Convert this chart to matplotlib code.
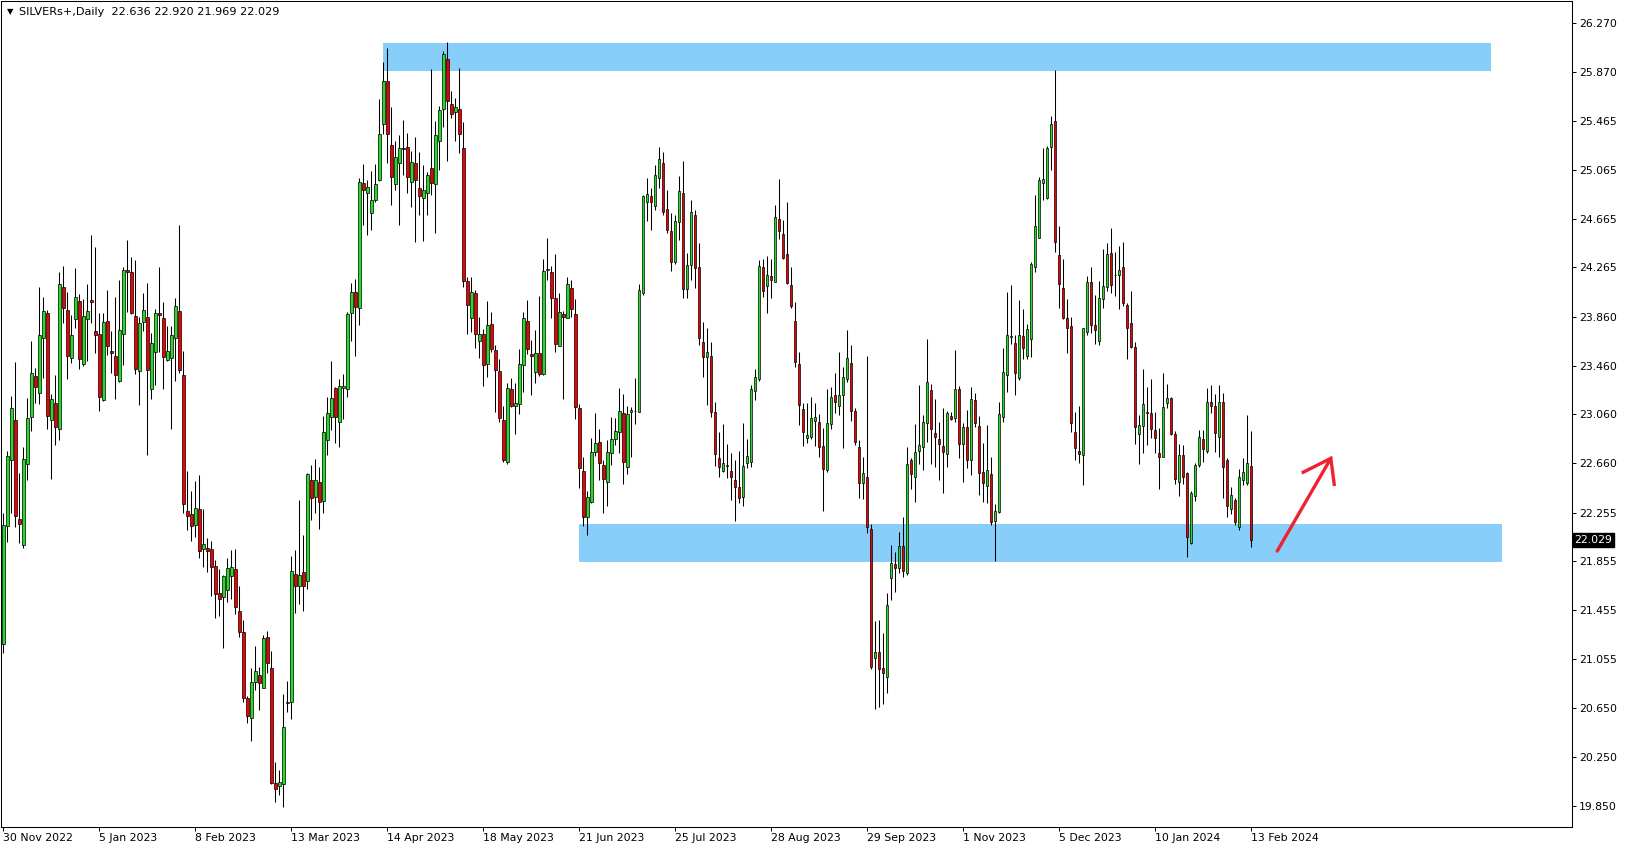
import matplotlib
matplotlib.use("Agg")
import matplotlib.pyplot as plt
import numpy as np
from matplotlib.patches import Rectangle
from matplotlib.transforms import blended_transform_factory

# daily candles, 30 Nov 2022 .. 13 Feb 2024
opens = [
    21.177, 22.147, 22.685, 23.013, 22.202, 21.986, 22.650, 23.040, 23.374, 23.232,
    23.683, 23.888, 23.011, 23.153, 22.937, 24.101, 23.912, 23.519, 23.838, 23.989,
    23.475, 23.838, 23.997, 23.743, 23.718, 23.177, 23.825, 23.579, 23.538, 23.336,
    23.721, 24.243, 24.226, 23.866, 23.418, 23.814, 23.858, 23.270, 23.573, 23.888,
    23.849, 23.502, 23.523, 23.689, 23.906, 23.383, 22.267, 22.242, 22.149, 22.280,
    21.952, 21.964, 21.955, 21.818, 21.594, 21.559, 21.617, 21.738, 21.789, 21.448,
    21.276, 20.734, 20.568, 20.868, 20.925, 20.820, 21.234, 20.979, 20.039, 20.010,
    20.029, 20.690, 20.702, 21.748, 21.655, 21.767, 21.697, 22.522, 22.385, 22.503,
    22.353, 22.853, 23.041, 23.273, 23.000, 23.273, 23.270, 23.888, 24.060, 23.929,
    24.953, 24.872, 24.713, 24.817, 24.980, 25.437, 25.789, 25.265, 24.950, 25.123,
    25.243, 25.248, 24.967, 25.117, 24.912, 24.830, 24.877, 25.079, 24.950, 25.303,
    25.560, 25.970, 25.603, 25.541, 25.560, 25.243, 24.150, 23.847, 24.052, 23.664,
    23.718, 23.470, 23.797, 23.584, 23.412, 23.010, 22.671, 23.267, 23.131, 23.141,
    23.461, 23.822, 23.551, 23.409, 23.559, 23.387, 24.245, 24.223, 24.010, 23.622,
    23.879, 23.852, 24.092, 23.879, 23.109, 22.592, 22.221, 22.338, 22.753, 22.830,
    22.641, 22.502, 22.740, 22.855, 22.912, 23.070, 22.625, 23.076, 23.084, 23.081,
    24.051, 24.803, 24.849, 24.770, 24.998, 25.120, 24.742, 24.562, 24.305, 24.633,
    24.871, 24.084, 24.283, 24.693, 24.264, 23.649, 23.526, 23.535, 23.076, 22.699,
    22.597, 22.640, 22.595, 22.521, 22.461, 22.384, 22.658, 22.666, 23.253, 23.346,
    24.264, 24.111, 24.193, 24.147, 24.660, 24.535, 24.371, 24.119, 23.824, 23.469,
    23.100, 22.868, 22.876, 23.008, 22.994, 22.800, 22.604, 22.978, 23.216, 23.128,
    23.216, 23.347, 23.478, 23.084, 22.789, 22.494, 22.549, 22.117, 21.060, 21.109,
    20.978, 20.904, 21.721, 21.830, 21.798, 21.983, 21.757, 22.683, 22.549, 22.762,
    22.795, 22.992, 23.257, 22.904, 22.855, 22.800, 22.732, 23.043, 23.027, 23.265,
    22.814, 22.956, 22.685, 23.174, 22.964, 22.590, 22.475, 22.570, 22.188, 22.262,
    23.035, 23.382, 23.693, 23.642, 23.360, 23.702, 23.541, 23.674, 24.270, 24.508,
    24.959, 24.836, 25.254, 25.464, 24.363, 24.092, 23.847, 23.781, 22.918, 22.756,
    22.726, 23.737, 24.142, 23.792, 23.663, 24.005, 24.101, 24.379, 24.202, 24.202,
    24.265, 23.956, 23.806, 23.614, 22.896, 22.967, 23.079, 23.068, 22.928, 22.740,
    22.713, 23.150, 23.191, 22.896, 22.502, 22.726, 22.576, 22.008, 22.393, 22.644,
    22.857, 22.762, 23.158, 23.128, 22.877, 23.158, 22.685, 22.281, 22.357, 22.139,
    22.521, 22.500, 22.636,
]
highs = [
    22.250, 22.762, 23.210, 23.489, 22.576, 22.789, 23.191, 23.661, 23.437, 24.101,
    24.019, 23.915, 23.226, 23.382, 24.224, 24.273, 24.060, 23.874, 24.256, 24.046,
    24.005, 24.128, 24.530, 24.429, 23.888, 23.888, 24.079, 23.746, 24.019, 24.161,
    24.270, 24.489, 24.352, 24.325, 23.855, 24.051, 24.139, 23.724, 23.920, 24.270,
    23.983, 23.784, 23.784, 24.014, 24.613, 23.580, 22.592, 22.433, 22.512, 22.560,
    22.280, 22.050, 22.019, 21.866, 21.795, 21.745, 21.882, 21.945, 21.955, 21.652,
    21.371, 20.750, 20.979, 21.158, 20.989, 21.250, 21.282, 21.116, 20.208, 20.144,
    20.766, 20.871, 21.897, 21.945, 22.360, 22.073, 22.580, 22.646, 22.694, 22.624,
    23.045, 23.198, 23.497, 23.280, 23.349, 23.390, 23.901, 24.133, 24.166, 24.994,
    25.109, 24.980, 25.057, 25.112, 25.644, 25.948, 26.060, 25.576, 25.300, 25.349,
    25.472, 25.363, 25.218, 25.336, 25.210, 25.103, 25.049, 25.890, 25.467, 25.587,
    26.037, 26.109, 25.710, 25.650, 25.899, 25.453, 24.188, 24.185, 24.079, 23.860,
    23.759, 23.989, 23.896, 23.628, 23.510, 23.128, 23.313, 23.354, 23.313, 23.595,
    23.895, 23.994, 23.669, 23.751, 24.029, 24.330, 24.502, 24.275, 24.371, 24.051,
    23.906, 24.188, 24.160, 24.005, 23.144, 22.707, 22.434, 22.863, 23.068, 22.936,
    22.685, 22.849, 23.040, 23.030, 23.275, 23.223, 23.128, 23.122, 23.354, 24.128,
    24.860, 24.994, 24.915, 25.103, 25.250, 25.210, 24.898, 24.707, 24.693, 25.013,
    25.140, 24.384, 24.816, 24.734, 24.461, 23.813, 23.764, 23.655, 23.158, 22.917,
    22.977, 22.813, 22.740, 22.685, 22.759, 22.985, 22.857, 23.300, 23.431, 24.324,
    24.333, 24.360, 24.330, 24.775, 24.988, 24.652, 24.802, 24.270, 23.983, 23.567,
    23.149, 23.149, 23.204, 23.150, 23.063, 22.945, 23.265, 23.287, 23.396, 23.573,
    23.451, 23.751, 23.628, 23.109, 22.849, 22.707, 23.538, 22.158, 21.366, 21.374,
    21.270, 21.593, 21.989, 21.929, 22.093, 22.216, 22.789, 22.699, 22.978, 23.300,
    23.054, 23.675, 23.308, 23.186, 22.994, 23.112, 23.090, 23.076, 23.587, 23.292,
    22.986, 23.095, 23.281, 23.232, 23.046, 22.827, 22.972, 22.707, 22.322, 23.163,
    23.601, 24.065, 24.120, 23.710, 23.997, 23.923, 23.797, 24.311, 24.857, 25.008,
    25.245, 25.262, 25.505, 25.882, 24.603, 24.333, 24.002, 23.860, 23.076, 23.128,
    23.770, 24.196, 24.267, 24.038, 24.153, 24.415, 24.461, 24.590, 24.393, 24.442,
    24.470, 23.970, 24.071, 23.650, 23.054, 23.430, 23.281, 23.347, 23.081, 22.945,
    23.400, 23.308, 23.205, 22.923, 22.816, 22.808, 22.590, 22.434, 22.658, 22.931,
    22.931, 23.273, 23.300, 23.226, 23.300, 23.232, 22.704, 22.467, 22.371, 22.612,
    22.699, 23.054, 22.920,
]
lows = [
    21.100, 22.016, 22.248, 22.139, 22.003, 21.967, 22.521, 22.926, 23.150, 23.142,
    23.355, 22.937, 22.527, 22.806, 22.852, 23.806, 23.352, 23.483, 23.764, 23.434,
    23.456, 23.500, 23.811, 23.565, 23.090, 23.169, 23.546, 23.396, 23.185, 23.327,
    23.464, 23.901, 23.879, 23.390, 23.136, 23.746, 22.726, 23.185, 23.300, 23.573,
    23.270, 23.500, 22.943, 23.332, 23.396, 22.254, 22.114, 22.018, 22.057, 21.878,
    21.808, 21.764, 21.572, 21.387, 21.403, 21.148, 21.521, 21.547, 21.419, 21.238,
    20.702, 20.527, 20.383, 20.804, 20.638, 20.814, 20.941, 20.032, 19.883, 19.937,
    19.841, 20.616, 20.559, 21.435, 21.508, 21.445, 21.627, 22.194, 22.248, 22.121,
    22.248, 22.726, 22.931, 22.822, 22.795, 23.019, 23.205, 23.664, 23.541, 23.792,
    24.612, 24.530, 24.571, 24.803, 24.975, 25.358, 25.123, 24.776, 24.899, 24.612,
    25.021, 24.877, 24.762, 24.470, 24.694, 24.483, 24.694, 24.860, 24.549, 25.062,
    25.418, 25.139, 25.486, 25.300, 25.199, 24.106, 23.715, 23.737, 23.601, 23.519,
    23.295, 23.368, 23.574, 23.081, 22.999, 22.671, 22.650, 23.122, 22.895, 23.059,
    23.245, 23.554, 23.221, 23.313, 23.374, 23.382, 24.160, 23.852, 23.573, 23.620,
    23.188, 23.846, 23.860, 23.024, 22.453, 22.144, 22.070, 22.330, 22.721, 22.521,
    22.253, 22.308, 22.644, 22.808, 22.740, 22.488, 22.570, 22.712, 22.980, 23.081,
    24.040, 24.647, 24.570, 24.734, 24.917, 24.693, 24.543, 24.234, 24.292, 24.488,
    24.016, 24.010, 24.160, 24.098, 23.625, 23.368, 23.136, 23.040, 22.636, 22.548,
    22.589, 22.535, 22.357, 22.185, 22.330, 22.308, 22.617, 22.630, 23.177, 23.333,
    24.024, 23.893, 24.010, 24.141, 24.496, 24.330, 24.128, 23.934, 23.447, 22.972,
    22.800, 22.827, 22.857, 22.800, 22.713, 22.270, 22.590, 22.937, 23.068, 23.054,
    22.781, 23.328, 23.008, 22.809, 22.377, 22.366, 22.084, 20.970, 20.642, 20.658,
    20.686, 20.778, 21.538, 21.606, 21.762, 21.724, 21.743, 22.448, 22.344, 22.650,
    22.604, 22.836, 22.653, 22.631, 22.522, 22.418, 22.631, 23.013, 22.999, 22.705,
    22.508, 22.617, 22.563, 22.959, 22.398, 22.344, 22.330, 22.152, 21.860, 22.250,
    22.999, 23.245, 23.633, 23.218, 23.341, 23.513, 23.511, 23.532, 24.224, 24.502,
    24.817, 24.822, 25.062, 24.388, 23.934, 23.841, 23.560, 22.918, 22.685, 22.658,
    22.481, 23.710, 23.724, 23.633, 23.628, 23.928, 24.071, 24.051, 24.032, 23.923,
    23.950, 23.511, 23.601, 22.816, 22.653, 22.745, 22.808, 22.863, 22.745, 22.445,
    22.710, 23.109, 22.890, 22.486, 22.393, 22.486, 21.893, 22.000, 22.349, 22.625,
    22.672, 22.740, 23.073, 22.754, 22.707, 22.371, 22.221, 22.240, 22.152, 22.112,
    22.480, 22.480, 21.969,
]
closes = [
    22.152, 22.718, 23.109, 22.226, 22.158, 22.694, 23.027, 23.396, 23.281, 23.707,
    23.907, 23.049, 23.183, 22.953, 24.125, 23.928, 23.540, 23.707, 24.019, 23.510,
    23.863, 23.907, 23.978, 23.713, 23.204, 23.816, 23.620, 23.565, 23.385, 23.751,
    24.243, 24.229, 23.893, 23.434, 23.806, 23.915, 23.426, 23.642, 23.888, 23.876,
    23.532, 23.576, 23.708, 23.947, 23.427, 22.321, 22.229, 22.143, 22.289, 21.942,
    21.996, 21.942, 21.811, 21.591, 21.550, 21.735, 21.802, 21.808, 21.477, 21.273,
    20.731, 20.590, 20.868, 20.954, 20.855, 21.228, 21.018, 20.039, 19.985, 20.049,
    20.495, 20.700, 21.773, 21.655, 21.741, 21.655, 22.567, 22.376, 22.522, 22.344,
    22.914, 23.071, 23.191, 23.035, 23.292, 23.292, 23.882, 24.060, 23.937, 24.967,
    24.899, 24.920, 24.814, 24.945, 25.355, 25.789, 25.355, 25.008, 25.166, 25.240,
    25.232, 25.008, 25.125, 24.983, 24.852, 24.896, 25.019, 24.959, 25.347, 25.554,
    26.013, 25.631, 25.519, 25.576, 25.355, 24.150, 23.953, 24.060, 23.715, 23.718,
    23.461, 23.789, 23.598, 23.423, 23.027, 22.685, 23.273, 23.128, 23.150, 23.469,
    23.846, 23.592, 23.535, 23.559, 23.393, 24.232, 24.250, 24.016, 23.633, 23.895,
    23.854, 24.125, 23.920, 23.117, 22.617, 22.215, 22.385, 22.748, 22.822, 22.658,
    22.532, 22.748, 22.855, 22.920, 23.087, 22.671, 23.062, 23.095, 23.090, 24.076,
    24.846, 24.863, 24.803, 25.021, 25.150, 24.715, 24.567, 24.305, 24.644, 24.890,
    24.084, 24.283, 24.715, 24.256, 23.682, 23.526, 23.567, 23.081, 22.731, 22.630,
    22.658, 22.646, 22.548, 22.466, 22.371, 22.639, 22.721, 23.264, 23.363, 24.278,
    24.073, 24.201, 24.160, 24.679, 24.565, 24.343, 24.136, 23.950, 23.491, 23.136,
    22.917, 22.890, 23.032, 23.035, 22.789, 22.609, 22.986, 23.205, 23.158, 23.216,
    23.363, 23.519, 23.090, 22.836, 22.494, 22.576, 22.139, 20.992, 21.109, 20.970,
    20.937, 21.497, 21.838, 21.803, 21.983, 21.778, 22.650, 22.568, 22.754, 22.806,
    22.999, 23.322, 22.937, 22.877, 22.817, 22.754, 23.068, 23.019, 23.265, 22.814,
    22.956, 22.685, 23.186, 22.991, 22.581, 22.500, 22.603, 22.180, 22.267, 23.060,
    23.404, 23.710, 23.700, 23.396, 23.710, 23.601, 23.759, 24.289, 24.603, 24.980,
    24.986, 25.240, 25.437, 24.475, 24.125, 23.852, 23.765, 22.991, 22.781, 22.732,
    23.765, 24.142, 23.792, 23.751, 24.010, 24.112, 24.374, 24.120, 24.198, 24.243,
    23.970, 23.765, 23.614, 22.953, 22.972, 23.144, 23.068, 22.937, 22.863, 22.713,
    23.117, 23.191, 22.896, 22.527, 22.726, 22.549, 22.057, 22.412, 22.644, 22.871,
    22.773, 23.158, 23.128, 22.904, 23.158, 22.631, 22.311, 22.396, 22.180, 22.549,
    22.584, 22.658, 22.029,
]

date_labels = ["30 Nov 2022", "5 Jan 2023", "8 Feb 2023", "13 Mar 2023", "14 Apr 2023",
               "18 May 2023", "21 Jun 2023", "25 Jul 2023", "28 Aug 2023", "29 Sep 2023",
               "1 Nov 2023", "5 Dec 2023", "10 Jan 2024", "13 Feb 2024"]
price_ticks = [26.270, 25.870, 25.465, 25.065, 24.665, 24.265, 23.860, 23.460, 23.060,
               22.660, 22.255, 21.855, 21.455, 21.055, 20.650, 20.250, 19.850]

# drawn objects: two supply/demand zones and the hand drawn arrow (bar index, price)
zone_top = dict(bars=[94.9, 371.9], prices=[25.876, 26.107])
zone_bottom = dict(bars=[143.9, 374.8], prices=[21.849, 22.161])
arrow_shaft = dict(bars=[318.5, 331.9], prices=[21.939, 22.699])
arrow_head = dict(bars=[325.0, 331.9, 332.75], prices=[22.585, 22.699, 22.486])

symbol = "SILVERs+,Daily"

W, H = 1629, 850
fig = plt.figure(figsize=(W / 100, H / 100), dpi=100)
ax = fig.add_axes([1 / W, 23 / H, 1571 / W, 826 / H])
fs = 7.8

o = np.array(opens)
c = np.array(closes)
x = np.arange(len(c))
up = c >= o

for z in (zone_top, zone_bottom):
    ax.add_patch(Rectangle((z["bars"][0], z["prices"][0]), z["bars"][1] - z["bars"][0],
                           z["prices"][1] - z["prices"][0], facecolor="#87CEFA",
                           edgecolor="none", zorder=1))

ax.vlines(x, lows, highs, color="black", linewidth=0.75, zorder=2)
body_lo = np.minimum(o, c)
body_h = np.maximum(np.abs(c - o), 0.004)
ax.bar(x, body_h, bottom=body_lo, width=0.62,
       color=np.where(up, "#22DD22", "#EE0000"), edgecolor="black",
       linewidth=0.5, zorder=3)

ax.plot(arrow_shaft["bars"], arrow_shaft["prices"], color="#EE2230", linewidth=2.4,
        solid_capstyle="round", zorder=4)
ax.plot(arrow_head["bars"], arrow_head["prices"], color="#EE2230", linewidth=2.4,
        solid_joinstyle="miter", zorder=4)

ax.set_xlim(-0.575, 392.2)
ax.set_ylim(19.677, 26.448)

ax.yaxis.tick_right()
ax.set_yticks(price_ticks)
ax.set_yticklabels([f"{p:.3f}" for p in price_ticks])
ax.tick_params(axis="y", length=3, width=0.7, pad=2, labelsize=fs)
ax.set_xticks(np.arange(len(date_labels)) * 24)
ax.set_xticklabels(date_labels, ha="left")
ax.tick_params(axis="x", length=3, width=0.7, pad=1.5, labelsize=fs)
for s in ax.spines.values():
    s.set_linewidth(0.75)

# current price box on the right scale
tr = blended_transform_factory(ax.transAxes, ax.transData)
ax.text(1.0015, closes[-1], f"{closes[-1]:.3f}", transform=tr, ha="left", va="center",
        fontsize=fs, color="white",
        bbox=dict(facecolor="black", edgecolor="black", boxstyle="square,pad=0.15"))

fig.text(7 / W, 1 - 12 / H, "\u25BC", fontsize=6, va="center", ha="left")
fig.text(19 / W, 1 - 12 / H,
         f"{symbol}  {opens[-1]:.3f} {highs[-1]:.3f} {lows[-1]:.3f} {closes[-1]:.3f}",
         fontsize=8.1, va="center", ha="left")

fig.savefig("out.png", dpi=100)
